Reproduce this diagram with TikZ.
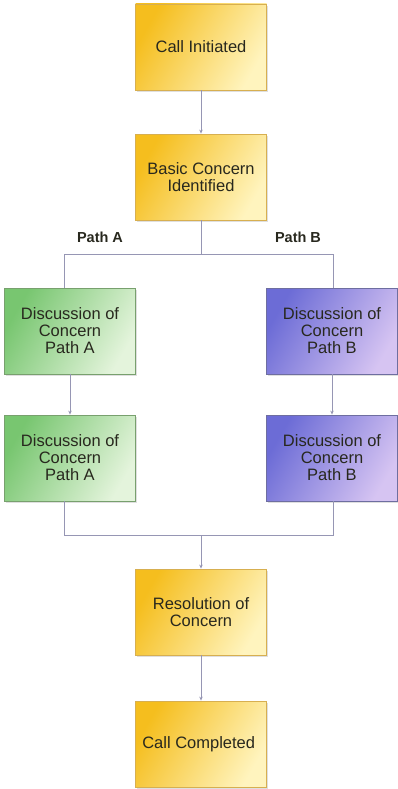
\documentclass[tikz,border=0pt]{standalone}
\usepackage{fontspec}
\setmainfont{Liberation Sans}
\usepackage{tikz}
\usetikzlibrary{arrows.meta, shadows}
\definecolor{goldA}{RGB}{245,190,30}
\definecolor{goldB}{RGB}{255,244,190}
\definecolor{goldE}{RGB}{215,175,80}
\definecolor{grnA}{RGB}{120,198,112}
\definecolor{grnB}{RGB}{228,244,220}
\definecolor{grnE}{RGB}{120,160,110}
\definecolor{bluA}{RGB}{108,108,214}
\definecolor{bluB}{RGB}{214,196,242}
\definecolor{bluE}{RGB}{110,110,160}
\definecolor{conn}{RGB}{150,150,180}
\definecolor{txt}{RGB}{40,40,30}
\tikzset{
  box/.style={draw, line width=0.8pt, minimum width=131pt, minimum height=86pt,
    align=center, text=txt, font=\fontsize{16.5}{17}\selectfont,
    drop shadow={shadow xshift=1pt, shadow yshift=-2pt, opacity=0.25}},
  gold/.style={box, draw=goldE, left color=goldA, right color=goldB, shading angle=60},
  grn/.style={box, draw=grnE, left color=grnA, right color=grnB, shading angle=60},
  blu/.style={box, draw=bluE, left color=bluA, right color=bluB, shading angle=60},
  conline/.style={draw=conn, line width=1pt},
  tip/.style={conline, -{Stealth[length=4pt, width=3.5pt]}},
  pathlbl/.style={font=\fontsize{14.5}{16}\selectfont\bfseries, text=txt}
}
\begin{document}
\begin{tikzpicture}[x=1pt, y=-1pt]
\useasboundingbox (0,0) rectangle (398,789);
% boxes
\foreach \n/\s/\x/\y/\t in {
call/gold/201/47/{Call Initiated},
basic/gold/201/177/{Basic Concern\\Identified},
dA1/grn/70/331/{Discussion of\\Concern\\Path A},
dA2/grn/70/458/{Discussion of\\Concern\\Path A},
dB1/blu/332/331/{Discussion of\\Concern\\Path B},
dB2/blu/332/458/{Discussion of\\Concern\\Path B},
res/gold/201/612/{Resolution of\\Concern},
done/gold/201/744/{Call Completed}
}{
\node[\s] (\n) at (\x,\y) {\t};
}
\node[pathlbl] (lblA) at (100,237) {Path A};
\node[pathlbl] (lblB) at (298,237) {Path B};
% connectors
\coordinate (sp) at (201,254);
\coordinate (spA) at (64,254);
\coordinate (spB) at (333,254);
\coordinate (jn) at (201,535);
\coordinate (jnA) at (64,535);
\coordinate (jnB) at (333,535);
\draw[tip] (call) -- (basic);
\draw[conline] (basic) -- (sp);
\draw[conline] (spA) -- (spB);
\draw[conline] (spA) -- (spA |- dA1.north);
\draw[conline] (spB) -- (spB |- dB1.north);
\draw[tip] (dA1) -- (dA2);
\draw[tip] (dB1) -- (dB2);
\draw[conline] (jnA |- dA2.south) -- (jnA) -- (jnB) -- (jnB |- dB2.south);
\draw[tip] (jn) -- (res);
\draw[tip] (res) -- (done);
\end{tikzpicture}
\end{document}
